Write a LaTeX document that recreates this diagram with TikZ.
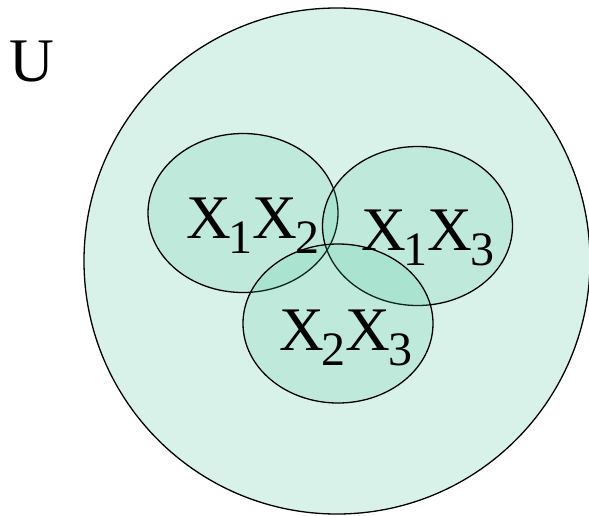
\documentclass[tikz,border=0pt]{standalone}
\usepackage{fontspec}
\setmainfont{Liberation Serif}
\usetikzlibrary{positioning, shapes.geometric}
\definecolor{universe}{HTML}{D8F1E9}
\definecolor{vennfill}{RGB}{80,200,160}
% lowered index, as the slide sets it
\newcommand{\lowidx}[1]{\kern-2pt\raisebox{-15pt}{\fontsize{48}{48}\selectfont #1}}

\begin{document}
\begin{tikzpicture}[x=1pt, y=-1pt,
  set/.style={ellipse, draw, line width=1.3pt, fill=vennfill, fill opacity=0.18,
    minimum width=190pt, minimum height=159pt, inner sep=0pt},
  lbl/.style={anchor=base west, inner sep=0pt, font=\fontsize{62}{62}\selectfont}]
  \useasboundingbox (0,0) rectangle (589,515);
  % universe
  \node[circle, draw, line width=1.3pt, fill=universe, minimum size=506pt, inner sep=0pt]
    (U) at (337,261) {};
  \node[lbl] (Ulbl) at (9,81) {U};
  % the three sets
  \foreach \n/\x/\y in {s12/243/213, s13/417.5/226, s23/338/323.5} {
    \node[set] (\n) at (\x,\y) {};
  }
  % set names
  \node[lbl] (t12) at (186,238) {X\lowidx{1}X\lowidx{2}};
  \node[lbl] (t13) at (361,250) {X\lowidx{1}X\lowidx{3}};
  \node[lbl] (t23) at (279,350) {X\lowidx{2}X\lowidx{3}};
\end{tikzpicture}
\end{document}
